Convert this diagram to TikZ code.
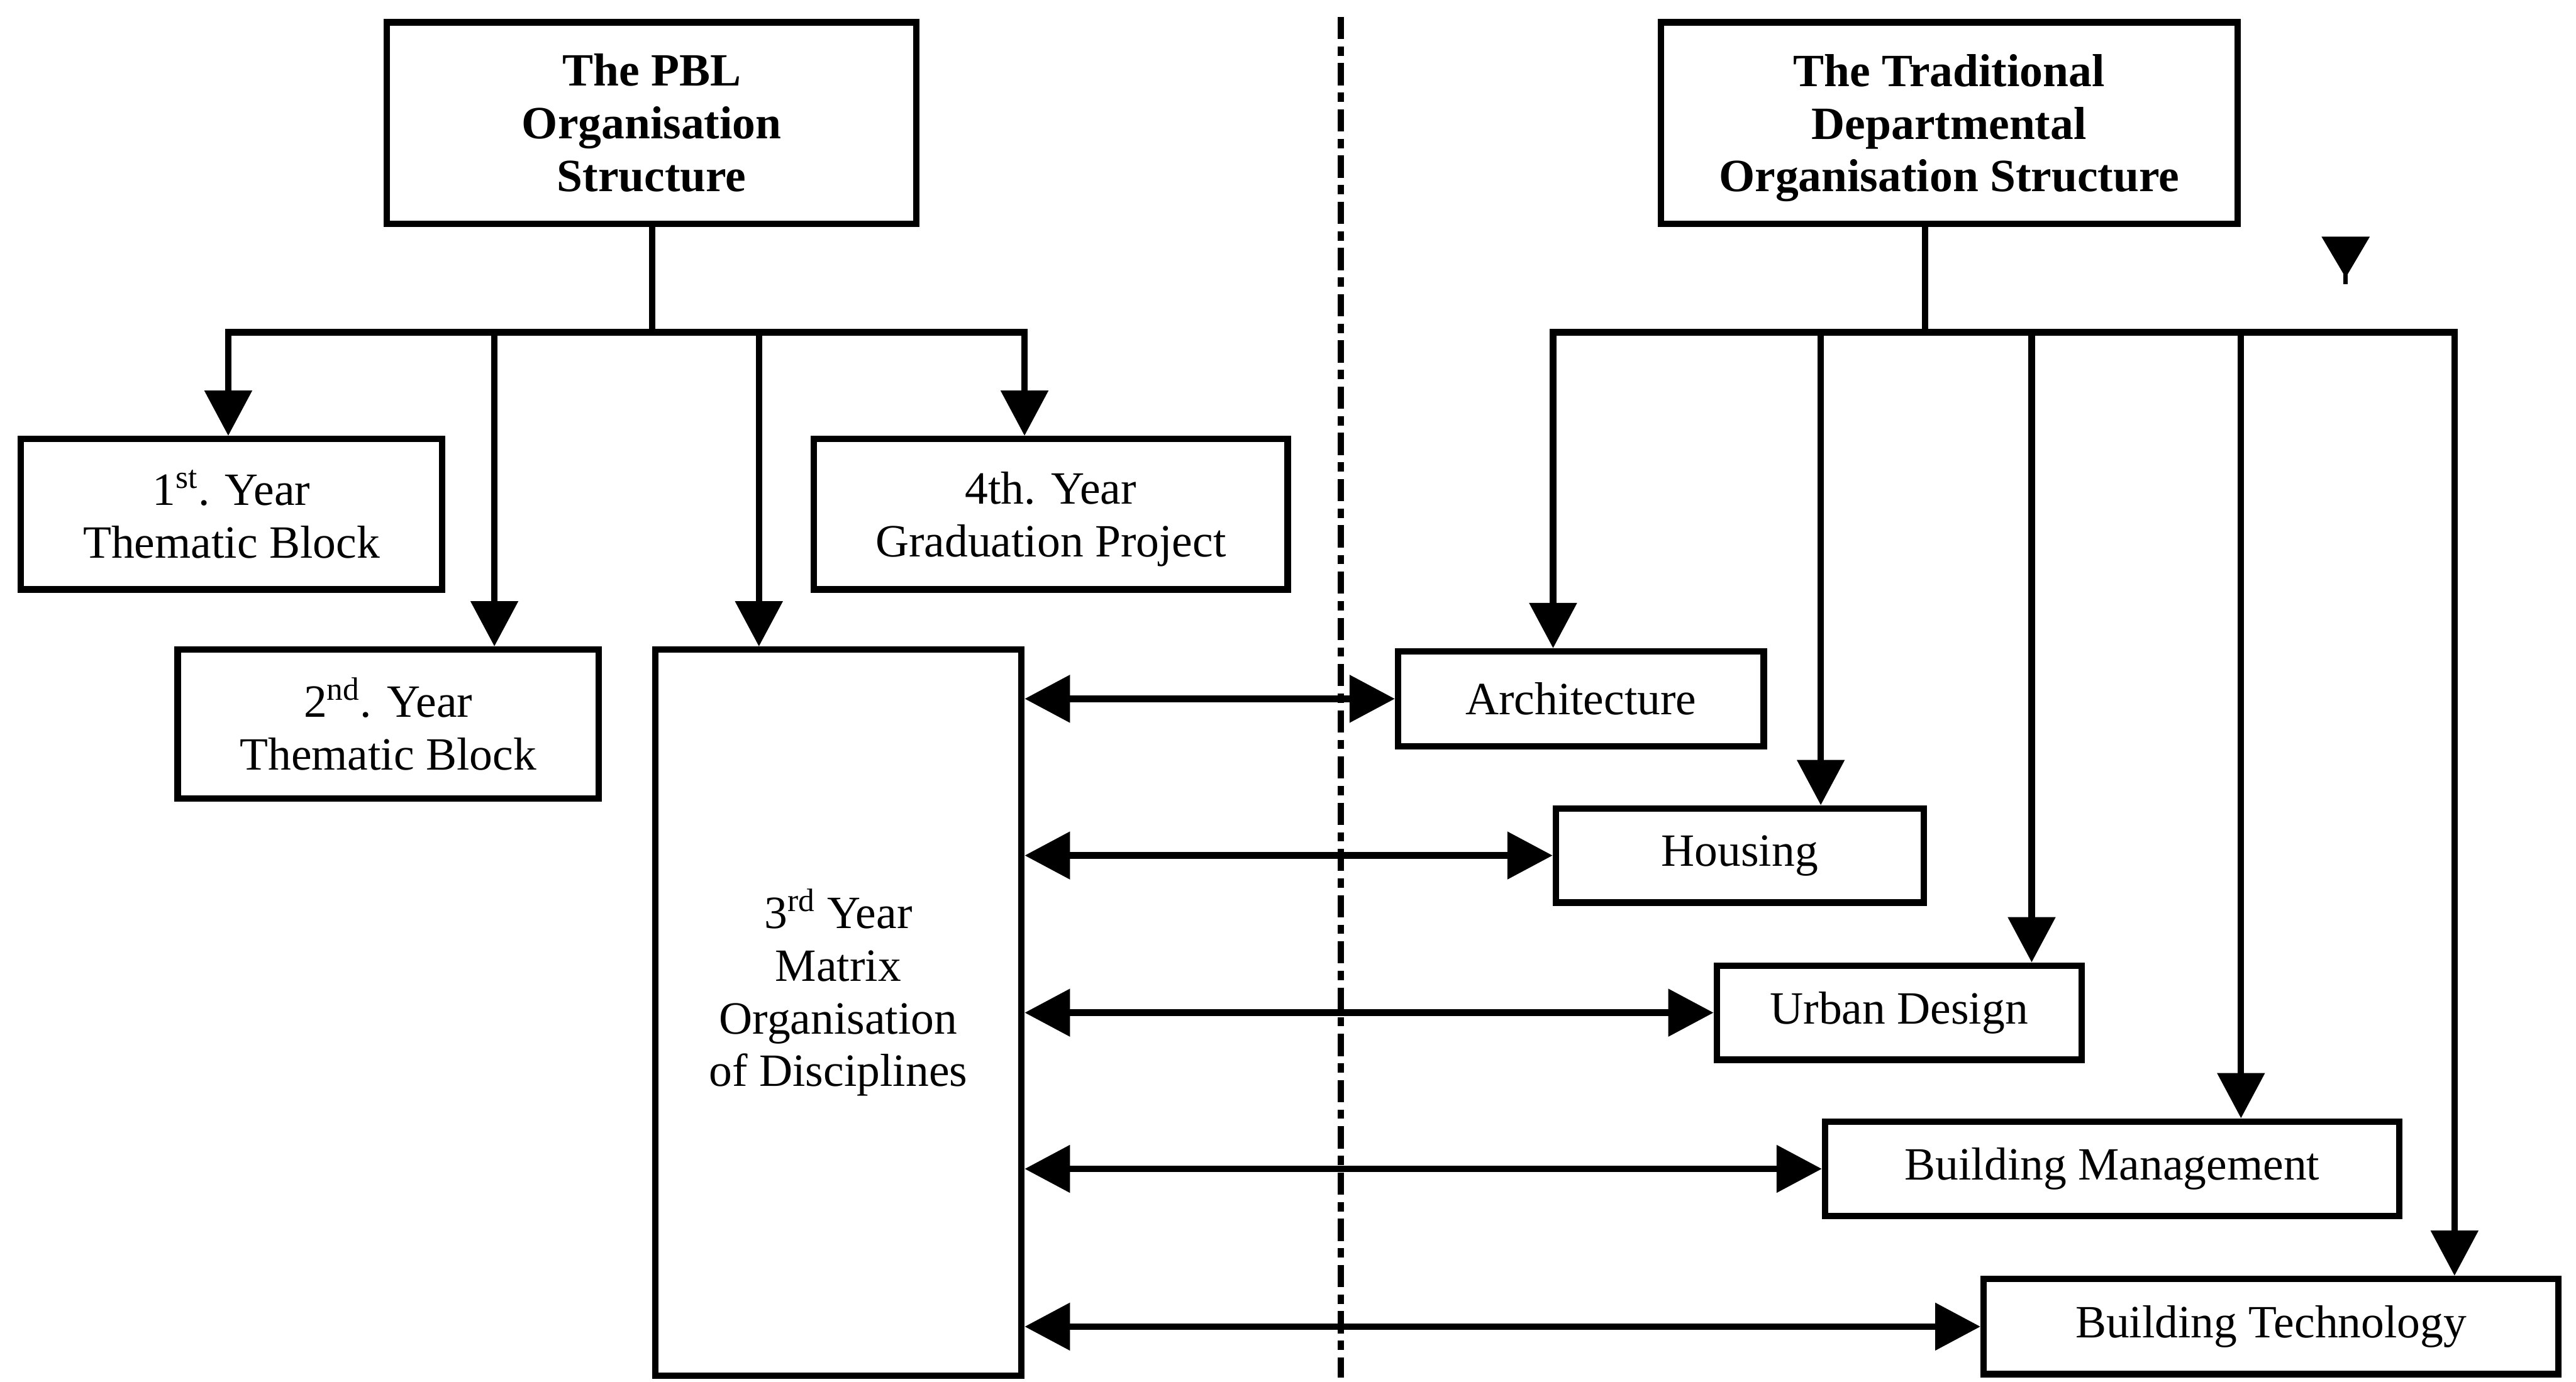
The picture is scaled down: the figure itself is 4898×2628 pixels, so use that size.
\documentclass[tikz,border=0pt]{standalone}
\usepackage{fontspec}
\setmainfont{Liberation Serif}
\usetikzlibrary{arrows.meta}
\newcommand{\nodepth}[1]{\raisebox{0pt}[\height][0pt]{#1}}
\begin{document}
\begin{tikzpicture}[x=0.01cm,y=-0.01cm,
  box/.style={draw, line width=3.5pt, inner sep=0pt, align=center,
    font=\fontsize{25}{28.5}\selectfont},
  head/.style={box, font=\bfseries\fontsize{25}{28.5}\selectfont},
  caption/.style={inner sep=0pt, align=center, font=\fontsize{25}{28.5}\selectfont},
  link/.style={line width=3.5pt},
  tip/.style={-{Triangle[length=0.86cm,width=0.88cm]}},
  both/.style={{Triangle[length=0.86cm,width=0.88cm]}-{Triangle[length=0.86cm,width=0.88cm]}},
  divider/.style={line width=3.4pt, dash pattern=on 12pt off 4pt on 5pt off 4pt}]
\useasboundingbox (0,0) rectangle (4898,2628);

% PBL side
\node[head, minimum width=10.06cm, minimum height=3.83cm] (pbl) at (1239,234)
  {The PBL\\Organisation\\Structure};
\node[box, minimum width=8.01cm, minimum height=2.86cm] (y1) at (440,978)
  {1\textsuperscript{st}. Year\\Thematic Block};
\node[box, minimum width=9.00cm, minimum height=2.86cm] (y4) at (1998,978)
  {4th. Year\\\nodepth{Graduation Project}};
\node[box, minimum width=8.00cm, minimum height=2.83cm] (y2) at (738,1377)
  {2\textsuperscript{nd}. Year\\Thematic Block};
\node[box, minimum width=6.96cm, minimum height=13.80cm] (y3) at (1594,1926) {};
\node[caption] (y3t) at (1594,1888)
  {3\textsuperscript{rd} Year\\Matrix\\Organisation\\of Disciplines};

% Traditional side
\node[head, minimum width=10.96cm, minimum height=3.83cm] (trad) at (3706,234)
  {The Traditional\\Departmental\\\nodepth{Organisation Structure}};
\node[box, minimum width=6.95cm, minimum height=1.80cm] (arch) at (3006,1329) {Architecture};
\node[box, minimum width=6.99cm, minimum height=1.79cm] (hous) at (3308,1627) {Housing};
\node[box, minimum width=6.93cm, minimum height=1.79cm] (urb) at (3611,1926) {Urban Design};
\node[box, minimum width=10.91cm, minimum height=1.80cm] (bm) at (4016,2223) {Building Management};
\node[box, minimum width=10.92cm, minimum height=1.81cm] (bt) at (4318,2523) {Building Technology};

% branching points on the two distribution bars
\coordinate (pj) at (1240,632);
\coordinate (c1) at (434,632);
\coordinate (c2) at (940,632);
\coordinate (c3) at (1443,632);
\coordinate (c4) at (1948,632);
\coordinate (tj) at (3660,632);
\coordinate (ta) at (2953,632);
\coordinate (tb) at (3462,632);
\coordinate (tc) at (3863,632);
\coordinate (td) at (4261,632);
\coordinate (te) at (4667,632);

% PBL tree
\draw[link] (pj |- pbl.south) -- (pj);
\draw[link,tip] (pj) -| (c1 |- y1.north);
\draw[link,tip] (pj) -| (c4 |- y4.north);
\draw[link,tip] (c2) -- (c2 |- y2.north);
\draw[link,tip] (c3) -- (c3 |- y3.north);

% Traditional tree
\draw[link] (tj |- trad.south) -- (tj);
\draw[link,tip] (tj) -| (ta |- arch.north);
\draw[link,tip] (tj) -| (te |- bt.north);
\draw[link,tip] (tb) -- (tb |- hous.north);
\draw[link,tip] (tc) -- (tc |- urb.north);
\draw[link,tip] (td) -- (td |- bm.north);

% links between the matrix and the departments
\draw[link,both] (y3.east |- arch) -- (arch.west);
\draw[link,both] (y3.east |- hous) -- (hous.west);
\draw[link,both] (y3.east |- urb) -- (urb.west);
\draw[link,both] (y3.east |- bm) -- (bm.west);
\draw[link,both] (y3.east |- bt) -- (bt.west);

% dividing line
\coordinate (dtop) at (2550,32);
\coordinate (dbot) at (2550,2620);
\draw[divider] (dtop) -- (dbot);

% loose arrowhead
\fill (4414,450) -- (4506,450) -- (4460,528) -- cycle;
\draw[line width=2.5pt] (4460,510) -- (4460,540);
\end{tikzpicture}
\end{document}
